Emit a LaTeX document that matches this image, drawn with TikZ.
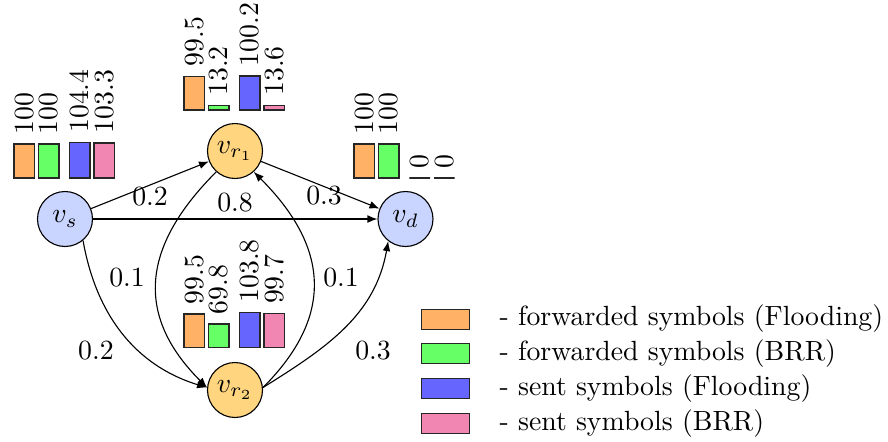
\documentclass[tikz,border=0pt]{standalone}
\usetikzlibrary{arrows.meta}
\definecolor{nodeblue}{RGB}{201,213,255}
\definecolor{nodeorange}{RGB}{255,213,128}
\definecolor{barorange}{RGB}{255,178,102}
\definecolor{bargreen}{RGB}{102,255,102}
\definecolor{barblue}{RGB}{102,102,255}
\definecolor{barpink}{RGB}{240,134,177}
\tikzset{
  vtx/.style={circle, draw, minimum size=19.8pt, inner sep=0.5pt},
  edge/.style={-{Latex[length=3.6pt,width=2.8pt]}, line width=0.4pt},
  barbox/.style={draw=black!85, line width=0.45pt},
  barlabel/.style={rotate=90, anchor=west},
  wlabel/.style={inner sep=0pt},
  legtext/.style={anchor=base west, inner sep=0pt},
}
% #1 name prefix, #2 x0, #3 y bottom, #4..#7 values
\newcommand{\bargroup}[7]{%
  \draw[barbox, fill=barorange] (#2,#3) rectangle ({#2+20.7},{#3-0.34*#4});
  \node[barlabel] (#1a) at ({#2+10.35},{#3-0.34*#4}) {#4};
  \draw[barbox, fill=bargreen] ({#2+24.3},#3) rectangle ({#2+45},{#3-0.34*#5});
  \node[barlabel] (#1b) at ({#2+34.65},{#3-0.34*#5}) {#5};
  \draw[barbox, fill=barblue] ({#2+55.3},#3) rectangle ({#2+76},{#3-0.34*#6});
  \node[barlabel] (#1c) at ({#2+65.65},{#3-0.34*#6}) {#6};
  \draw[barbox, fill=barpink] ({#2+80},#3) rectangle ({#2+100.7},{#3-0.34*#7});
  \node[barlabel] (#1d) at ({#2+90.35},{#3-0.34*#7}) {#7};
}
\begin{document}
\begin{tikzpicture}[x=0.36pt, y=-0.36pt]
\useasboundingbox (0,0) rectangle (888,441);

% vertices
\node[vtx, fill=nodeblue] (s) at (65,219) {$v_s$};
\node[vtx, fill=nodeorange] (r1) at (235,151) {$v_{r_1}$};
\node[vtx, fill=nodeorange] (r2) at (235,390) {$v_{r_2}$};
\node[vtx, fill=nodeblue] (d) at (405.5,219) {$v_d$};

% edges
\draw[edge] (s) -- (r1);
\draw[edge] (s) -- (d);
\draw[edge] (r1) -- (d);
\draw[edge] (s.-50) to[out=-80, in=163] (r2.175);
\draw[edge] (r1.228) to[out=225, in=135, looseness=1.23] (r2.175);
\draw[edge] (r2.5) to[out=45, in=-45, looseness=1.23] (r1.-48);
\draw[edge] (r2.5) to[out=32, in=-100] (d.232);

% edge weights
\node[wlabel] (w1) at (150,197) {0.2};
\node[wlabel] (w2) at (235,203) {0.8};
\node[wlabel] (w3) at (324,196) {0.3};
\node[wlabel] (w4) at (127,278) {0.1};
\node[wlabel] (w5) at (96,351) {0.2};
\node[wlabel] (w6) at (341,278) {0.1};
\node[wlabel] (w7) at (373,351) {0.3};

% bar groups
\bargroup{bs}{14}{178}{100}{100}{104.4}{103.3}
\bargroup{br}{184}{110}{99.5}{13.2}{100.2}{13.6}
\bargroup{bq}{184}{347.7}{99.5}{69.8}{103.8}{99.7}
\bargroup{bd}{354}{178}{100}{100}{0}{0}

% legend
\draw[barbox, fill=barorange] (421.7,309.3) rectangle (469.3,329.3);
\node[legtext] (l1) at (499,325.7) {- forwarded symbols (Flooding)};
\draw[barbox, fill=bargreen] (421.7,343.3) rectangle (469.3,363.3);
\node[legtext] (l2) at (499,360.7) {- forwarded symbols (BRR)};
\draw[barbox, fill=barblue] (421.7,378.3) rectangle (469.3,398.3);
\node[legtext] (l3) at (499,395.7) {- sent symbols (Flooding)};
\draw[barbox, fill=barpink] (421.7,413.3) rectangle (469.3,433.3);
\node[legtext] (l4) at (499,430.7) {- sent symbols (BRR)};
\end{tikzpicture}
\end{document}
